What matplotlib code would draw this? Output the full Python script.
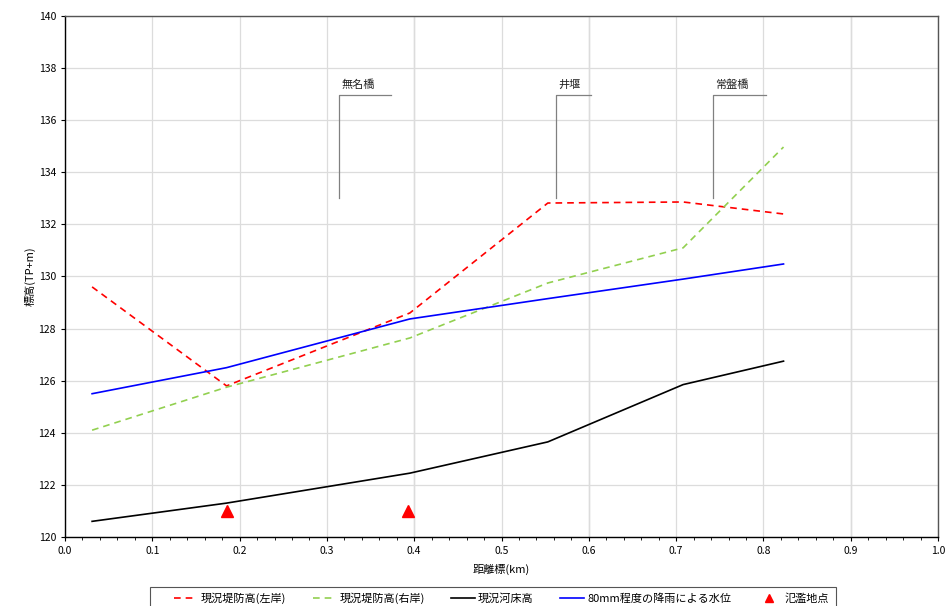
import matplotlib
matplotlib.use("Agg")
import matplotlib.pyplot as plt
from matplotlib.ticker import MultipleLocator
from matplotlib.patches import Rectangle

plt.rcParams['font.family'] = ['Noto Sans CJK JP', 'DejaVu Sans']

# ---- data ----
dist = [0.031, 0.185, 0.395, 0.553, 0.708, 0.823]
left_bank = [129.6, 125.8, 128.6, 132.82, 132.86, 132.4]
right_bank = [124.1, 125.75, 127.64, 129.75, 131.1, 134.97]
river_bed = [120.6, 121.3, 122.45, 123.65, 125.85, 126.75]
water_80mm = [125.5, 126.5, 128.37, 129.15, 129.9, 130.48]
flood_x = [0.186, 0.393]
flood_y = [121.0, 121.0]

labels = ['現況堤防高(左岸)', '現況堤防高(右岸)', '現況河床高', '80mm程度の降雨による水位', '氾濫地点']

ann_names = ['無名橋', '井堰', '常盤橋']
ann_x = [0.314, 0.562, 0.742]
ann_x_end = [0.373, 0.603, 0.803]
ann_y_bottom = [133.0, 133.0, 133.0]
ann_y_top = [136.97, 136.97, 136.97]

fig = plt.figure(figsize=(9.48, 6.06), dpi=100)
ax = fig.add_axes([0.0686, 0.1139, 0.9209, 0.8597])

ax.set_xlim(0, 1.0)
ax.set_ylim(120, 140)
ax.xaxis.set_major_locator(MultipleLocator(0.1))
ax.xaxis.set_minor_locator(MultipleLocator(0.02))
ax.yaxis.set_major_locator(MultipleLocator(2))
ax.grid(True, which='major', color='#dcdcdc', linewidth=0.9)
for xv in [0.4, 0.6, 0.9]:
    ax.axvline(xv, color='#c0c0c0', linewidth=0.9, zorder=0.5)
ax.set_axisbelow(True)

l1, = ax.plot(dist, left_bank, color='#ff0000', lw=1.2, dashes=(4, 3), label=labels[0])
l2, = ax.plot(dist, right_bank, color='#92d050', lw=1.2, dashes=(4, 3), label=labels[1])
l3, = ax.plot(dist, river_bed, color='black', lw=1.2, label=labels[2])
l4, = ax.plot(dist, water_80mm, color='#0000ff', lw=1.2, label=labels[3])
l5, = ax.plot(flood_x, flood_y, linestyle='none', marker='^', color='#ff0000',
              markersize=8, label=labels[4])

for name, x0, x1, yb, yt in zip(ann_names, ann_x, ann_x_end, ann_y_bottom, ann_y_top):
    ax.plot([x0, x0, x1], [yb, yt, yt], color='#808080', lw=0.9)
    ax.text(x0 + 0.003, yt + 0.18, name, fontsize=8, ha='left', va='bottom', color='#222222')

ax.set_xticklabels([f'{v:.1f}' for v in ax.get_xticks()])
ax.tick_params(axis='both', labelsize=7.5, direction='out', length=3, colors='black')
ax.tick_params(axis='x', which='minor', length=2)
for s in ['left', 'bottom']:
    ax.spines[s].set_color('black')
    ax.spines[s].set_linewidth(1.0)
for s in ['top', 'right']:
    ax.spines[s].set_color('#555555')
    ax.spines[s].set_linewidth(1.0)

ax.set_xlabel('距離標(km)', fontsize=8, labelpad=6)
ax.set_ylabel('標高(TP+m)', fontsize=8, labelpad=2)

# legend frame (cut at bottom edge like reference)
fig.patches.append(Rectangle((150 / 948, -0.05), (836 - 150) / 948, 0.05 + 1 - 587 / 606,
                             transform=fig.transFigure, facecolor='white',
                             edgecolor='#555555', linewidth=0.8, zorder=1))
leg = fig.legend(handles=[l1, l2, l3, l4, l5], loc='upper left',
                 bbox_to_anchor=(174 / 948, 1 - 592.5 / 606),
                 ncol=5, fontsize=8, frameon=False, markerscale=0.7,
                 handlelength=2.1, handletextpad=0.3, columnspacing=2.4,
                 borderpad=0, borderaxespad=0)
leg.set_zorder(2)

fig.savefig('out.png', dpi=100)
